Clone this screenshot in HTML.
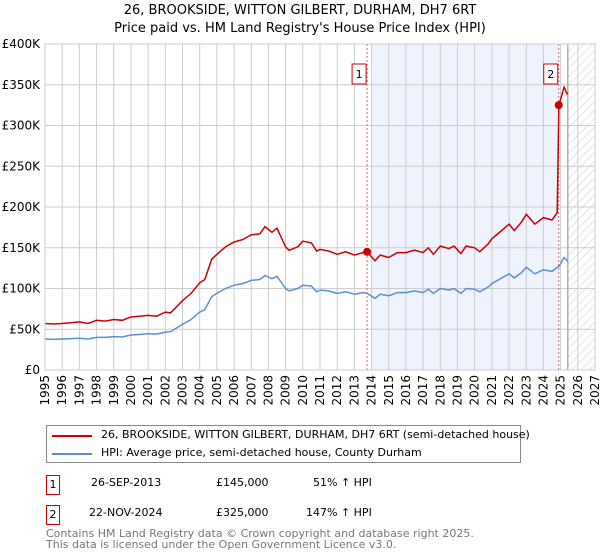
<!DOCTYPE html>
<html><head><meta charset="utf-8"><style>
body{margin:0;background:#fff;font-family:"Liberation Sans","DejaVu Sans",sans-serif;}
#wrap{position:relative;width:600px;height:560px;overflow:hidden;}
.t{position:absolute;font-size:12px;color:#000;white-space:nowrap;}
</style></head><body>
<div id="wrap">
<svg id="chart" width="600" height="560" style="position:absolute;left:0;top:0">
<defs><pattern id="hatch" width="6" height="6" patternUnits="userSpaceOnUse" patternTransform="rotate(45)"><line x1="0" y1="0" x2="0" y2="6" stroke="#ccc" stroke-width="1"/></pattern></defs>
<text x="300" y="14" text-anchor="middle" font-size="13" font-family="DejaVu Sans, sans-serif">26, BROOKSIDE, WITTON GILBERT, DURHAM, DH7 6RT</text>
<text x="300" y="32" text-anchor="middle" font-size="13" font-family="DejaVu Sans, sans-serif">Price paid vs. HM Land Registry's House Price Index (HPI)</text>
<g id="plot"></g>
</svg>
<div style="position:absolute;left:46px;top:425px;width:473px;height:36px;border:1px solid #888;background:#fff">
 <div style="position:absolute;left:5px;top:9px;width:40px;height:2px;background:#cc0000"></div>
 <div class="t" style="left:54px;top:2px;font-family:'DejaVu Sans',sans-serif;font-size:11px">26, BROOKSIDE, WITTON GILBERT, DURHAM, DH7 6RT (semi-detached house)</div>
 <div style="position:absolute;left:5px;top:27px;width:40px;height:2px;background:#5b8fd4"></div>
 <div class="t" style="left:54px;top:20px;font-family:'DejaVu Sans',sans-serif;font-size:11px">HPI: Average price, semi-detached house, County Durham</div>
</div>
<div style="position:absolute;left:46px;top:475px;width:12px;height:18px;border:1px solid #cc0000;font-size:11px;text-align:center;line-height:18px;font-family:'DejaVu Sans',sans-serif">1</div>
<div class="t" style="left:91px;top:476px;font-family:'DejaVu Sans',sans-serif;font-size:11px">26-SEP-2013</div>
<div class="t" style="left:216px;top:476px;font-family:'DejaVu Sans',sans-serif;font-size:11px">£145,000</div>
<div class="t" style="left:313px;top:476px;font-family:'DejaVu Sans',sans-serif;font-size:11px">51% ↑ HPI</div>
<div style="position:absolute;left:46px;top:505px;width:12px;height:18px;border:1px solid #cc0000;font-size:11px;text-align:center;line-height:18px;font-family:'DejaVu Sans',sans-serif">2</div>
<div class="t" style="left:89px;top:506px;font-family:'DejaVu Sans',sans-serif;font-size:11px">22-NOV-2024</div>
<div class="t" style="left:216px;top:506px;font-family:'DejaVu Sans',sans-serif;font-size:11px">£325,000</div>
<div class="t" style="left:306px;top:506px;font-family:'DejaVu Sans',sans-serif;font-size:11px">147% ↑ HPI</div>
<div class="t" style="left:46px;top:528px;color:#777;font-family:'DejaVu Sans',sans-serif;font-size:11px;line-height:11px">Contains HM Land Registry data © Crown copyright and database right 2025.<br>This data is licensed under the Open Government Licence v3.0.</div>
</div>
<script>
const dates=[1995.0,1995.5,1996.0,1996.5,1997.0,1997.5,1998.0,1998.5,1999.0,1999.5,2000.0,2000.5,2001.0,2001.5,2002.0,2002.3,2003.0,2003.5,2004.0,2004.3,2004.7,2005.0,2005.5,2006.0,2006.5,2007.0,2007.5,2007.8,2008.2,2008.5,2009.0,2009.2,2009.7,2010.0,2010.5,2010.8,2011.0,2011.5,2012.0,2012.5,2013.0,2013.5,2013.74,2014.2,2014.5,2015.0,2015.5,2016.0,2016.5,2017.0,2017.3,2017.6,2018.0,2018.5,2018.8,2019.2,2019.5,2020.0,2020.3,2020.8,2021.0,2021.5,2022.0,2022.3,2022.7,2023.0,2023.5,2024.0,2024.5,2024.8,2024.9,2025.2,2025.35,2025.4];
const hpiValues=[38,37.5,38,38.5,39,38,40,40,41,40.5,43,43.5,44.5,44,46.5,47,56,62,71,74,90,94,100,104,106,110,111,116,112,115,100,97,100,104,103,96,98,97,94,96,93,95,94,88,93,91,95,95,97,95,99,94,100,98,100,94,100,99,96,102,106,112,118,113,119,126,118,123,121,126,127,138,135,133];
const priceValues=[57,56.5,57,58,59,57,61,60,62,61,65,66,67,66,71,70,85,94,107,111,136,142,151,157,160,166,167,176,169,174,151,147,151,158,156,146,148,146,142,145,141,144,145,134,141,138,144,144,147,144,150,142,152,149,152,143,152,150,145,155,161,170,179,171,181,191,179,187,184,193,325,347,340,338];
const saleDates=[2013.74,2024.89];
const salePrices=[145,325];
const saleLabels=["1","2"];
const yTicks=[0,50,100,150,200,250,300,350,400];
const yTickLabels=["£0","£50K","£100K","£150K","£200K","£250K","£300K","£350K","£400K"];
const xYears=[];for(let y=1995;y<=2027;y++)xYears.push(y);

const L=45,R=595,T=44,B=370,x0=1995,x1=2027,ymax=400;
const xs=v=>L+(v-x0)/(x1-x0)*(R-L);
const ys=v=>B-v/ymax*(B-T);
const NS="http://www.w3.org/2000/svg";
const g=document.getElementById('plot');
function mk(tag,attrs,parent){const e=document.createElementNS(NS,tag);for(const k in attrs)e.setAttribute(k,attrs[k]);(parent||g).appendChild(e);return e;}

let e=mk('rect',{x:xs(2014.0),y:T,width:xs(2024.89)-xs(2014.0),height:B-T,fill:'#eef3fd'});


e=mk('rect',{x:xs(2025.42),y:T,width:R-xs(2025.42),height:B-T,fill:'url(#hatch)'});



xYears.forEach(y=>{
  e=mk('line',{x1:xs(y),x2:xs(y),y1:T,y2:B,stroke:'#cccccc','stroke-width':1});
  
  
  e=mk('text',{x:0,y:0,transform:`translate(${xs(y)+4},${B+5}) rotate(-90)`,'text-anchor':'end','font-size':12,'font-family':'DejaVu Sans, sans-serif'});
  e.textContent=y;
  
  
});
yTicks.forEach((v,i)=>{
  e=mk('line',{x1:L,x2:R,y1:ys(v),y2:ys(v),stroke:'#cccccc','stroke-width':1});
  
  
  e=mk('text',{x:40,y:ys(v)+4,'text-anchor':'end','font-size':12,'font-family':'DejaVu Sans, sans-serif'});
  e.textContent=yTickLabels[i];
  
  
});
e=mk('line',{x1:xs(2025.42),x2:xs(2025.42),y1:T,y2:B,stroke:'#888','stroke-width':1});



saleDates.forEach((d,i)=>{
  e=mk('line',{x1:xs(d),x2:xs(d),y1:T,y2:B,stroke:'#e06060','stroke-width':1,'stroke-dasharray':'2,2'});
  
  
});

const hp=dates.map((d,i)=>`${xs(d).toFixed(1)},${ys(hpiValues[i]).toFixed(1)}`).join(' ');
e=mk('polyline',{points:hp,fill:'none',stroke:'#5b8fd4','stroke-width':1.5});


const pp=dates.map((d,i)=>`${xs(d).toFixed(1)},${ys(priceValues[i]).toFixed(1)}`).join(' ');
e=mk('polyline',{points:pp,fill:'none',stroke:'#cc0000','stroke-width':1.5});



saleDates.forEach((d,i)=>{
  e=mk('circle',{cx:xs(d),cy:ys(salePrices[i]),r:4,fill:'#cc0000'});
  
  
  e=mk('rect',{x:xs(d)-15,y:64,width:14,height:20,fill:'#fff',stroke:'#cc0000'});
  
  
  e=mk('text',{x:xs(d)-8,y:78,'text-anchor':'middle','font-size':11,'font-family':'DejaVu Sans, sans-serif'});
  e.textContent=saleLabels[i];
  
  
});
e=mk('rect',{x:L,y:T,width:R-L,height:B-T,fill:'none',stroke:'#cccccc'});


</script>
</body></html>
